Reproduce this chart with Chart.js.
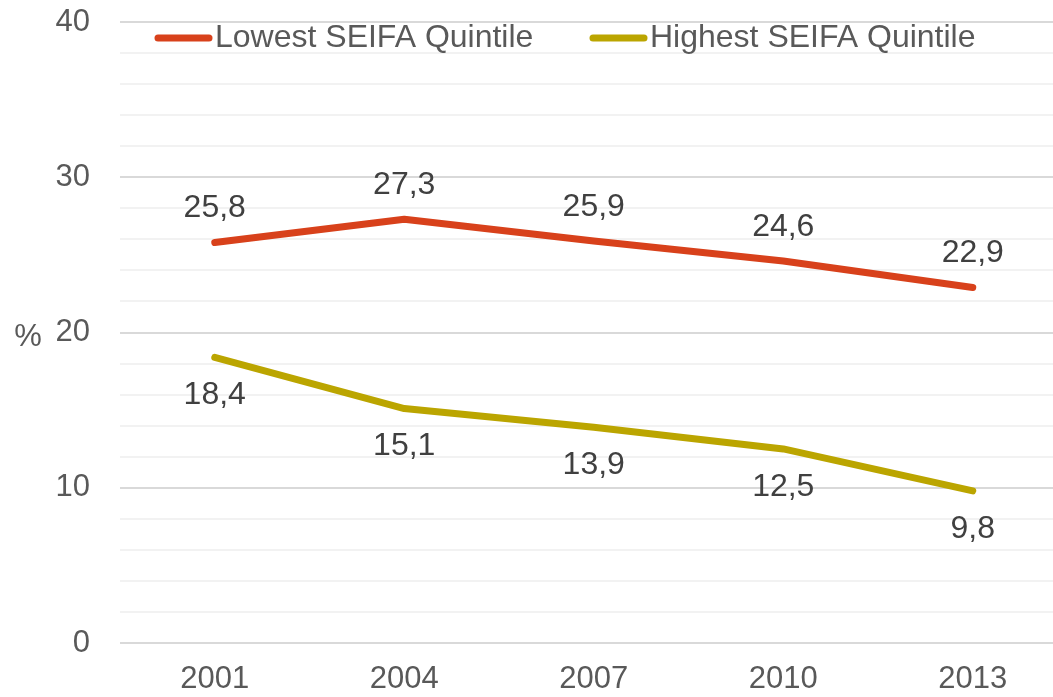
<!DOCTYPE html>
<html>
<head>
<meta charset="utf-8">
<script src="https://cdn.jsdelivr.net/npm/chart.js@4"></script>
<style>
  html, body { margin: 0; padding: 0; background: #fff; }
  #wrap { width: 1053px; height: 697px; }
</style>
</head>
<body>
<div id="wrap"><canvas id="chart" width="1053" height="697"></canvas></div>
<script>
// data
const years = [2001, 2004, 2007, 2010, 2013];
const lowestQuintile = [25.8, 27.3, 25.9, 24.6, 22.9];
const highestQuintile = [18.4, 15.1, 13.9, 12.5, 9.8];
const seriesNames = ['Lowest SEIFA Quintile', 'Highest SEIFA Quintile'];
const yTicks = [0, 10, 20, 30, 40];
const yMinorStep = 2;

const FONT = '"Liberation Sans", Arial, sans-serif';
const RED = '#D8411B';
const OLIVE = '#BBA500';

const toPoints = vals => vals.map((v, i) => ({ x: years[i], y: v }));

// value labels above/below each point, decimal comma
const valueLabels = {
    id: 'valueLabels',
    afterDatasetsDraw(chart) {
        const ctx = chart.ctx;
        ctx.save();
        ctx.font = '32px ' + FONT;
        ctx.fillStyle = '#404040';
        ctx.textAlign = 'center';
        ctx.textBaseline = 'middle';
        chart.data.datasets.forEach((ds, di) => {
            const meta = chart.getDatasetMeta(di);
            const off = di === 0 ? -34 : 38;
            meta.data.forEach((pt, i) => {
                const txt = ds.data[i].y.toFixed(1).replace('.', ',');
                ctx.fillText(txt, pt.x, pt.y + off);
            });
        });
        ctx.restore();
    }
};

// legend inside the plot top + the "%" axis label
const extras = {
    id: 'extras',
    afterDraw(chart) {
        const ctx = chart.ctx;
        ctx.save();
        const starts = [155, 590];
        chart.data.datasets.forEach((ds, i) => {
            const x = starts[i], y = 38;
            ctx.strokeStyle = ds.borderColor;
            ctx.lineWidth = 7;
            ctx.lineCap = 'round';
            ctx.beginPath();
            ctx.moveTo(x + 3, y);
            ctx.lineTo(x + 54, y);
            ctx.stroke();
            ctx.font = '32px ' + FONT;
            ctx.fillStyle = '#595959';
            ctx.textAlign = 'left';
            ctx.textBaseline = 'middle';
            ctx.fillText(ds.label, x + 60, y);
        });
        ctx.font = '31px ' + FONT;
        ctx.fillStyle = '#595959';
        ctx.textAlign = 'center';
        ctx.textBaseline = 'middle';
        ctx.fillText('%', 28, 337);
        ctx.restore();
    }
};

const ctx = document.getElementById('chart').getContext('2d');
const chart = new Chart(ctx, {
    type: 'line',
    data: {
        datasets: [
            { label: seriesNames[0], data: toPoints(lowestQuintile), borderColor: RED, backgroundColor: RED },
            { label: seriesNames[1], data: toPoints(highestQuintile), borderColor: OLIVE, backgroundColor: OLIVE }
        ]
    },
    options: {
        responsive: false,
        animation: false,
        layout: { padding: { top: 22, left: 0, right: 0, bottom: 0 } },
        elements: {
            line: { borderWidth: 7, tension: 0, borderCapStyle: 'round', borderJoinStyle: 'round' },
            point: { radius: 0, hoverRadius: 0 }
        },
        scales: {
            x: {
                type: 'linear',
                min: 1999.5,
                max: 2014.27,
                afterBuildTicks: axis => { axis.ticks = years.map(v => ({ value: v })); },
                afterFit: s => {
                    s.height = 54;
                    s.paddingLeft = 0;
                    s.paddingRight = 0;
                },
                grid: { display: false },
                border: { display: false },
                ticks: {
                    autoSkip: false,
                    maxRotation: 0,
                    padding: 10,
                    color: '#595959',
                    font: { family: FONT, size: 31 },
                    callback: v => String(v)
                }
            },
            y: {
                min: 0,
                max: 40,
                afterBuildTicks: axis => {
                    const t = [];
                    for (let v = axis.min; v <= axis.max; v += yMinorStep) t.push({ value: v });
                    axis.ticks = t;
                },
                afterFit: s => {
                    s.width = 120;
                    s.paddingTop = 0;
                    s.paddingBottom = 0;
                },
                border: { display: false },
                grid: {
                    drawTicks: false,
                    lineWidth: 2,
                    color: c => (yTicks.includes(c.tick.value) ? '#D9D9D9' : '#F2F2F2')
                },
                ticks: {
                    autoSkip: false,
                    padding: 30,
                    color: '#595959',
                    font: { family: FONT, size: 31 },
                    callback: v => (yTicks.includes(v) ? v : '')
                }
            }
        },
        plugins: {
            legend: { display: false },
            tooltip: { enabled: false }
        }
    },
    plugins: [valueLabels, extras]
});
</script>
</body>
</html>
